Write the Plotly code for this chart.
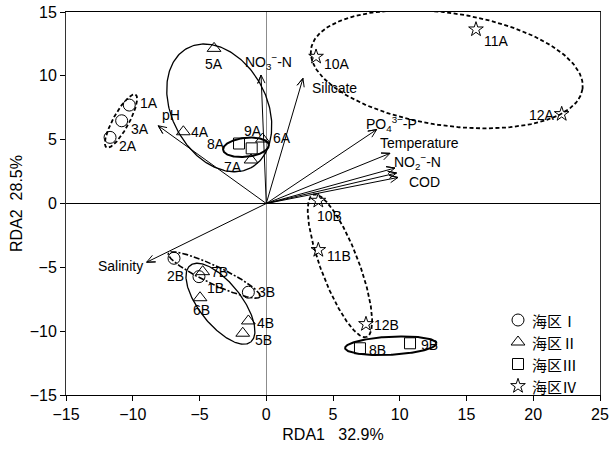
import numpy as np
import plotly.graph_objects as go

# ---------------- data ----------------
# Region I (circles)
sites_I = ["1A", "2A", "3A", "1B", "2B", "3B"]
x_I = [-10.26, -11.70, -10.83, -5.04, -6.91, -1.34]
y_I = [7.71, 5.18, 6.48, -5.73, -4.29, -6.95]

# Region II (triangles)
sites_II = ["4A", "5A", "6A", "7A", "4B", "5B", "6B", "7B"]
x_II = [-6.21, -3.91, -0.28, -1.14, -1.34, -1.76, -4.96, -4.76]
y_II = [5.62, 12.15, 5.05, 3.41, -9.20, -10.16, -7.38, -5.34]

# Region III (squares)
sites_III = ["8A", "9A", "8B", "9B"]
x_III = [-2.04, -1.09, 7.02, 10.77]
y_III = [4.70, 4.32, -11.34, -10.95]

# Region IV (stars)
sites_IV = ["10A", "11A", "12A", "10B", "11B", "12B"]
x_IV = [3.73, 15.71, 22.13, 3.90, 3.90, 7.47]
y_IV = [11.50, 13.64, 7.01, 0.22, -3.64, -9.44]

region_names = ["海区Ⅰ", "海区Ⅱ", "海区Ⅲ", "海区Ⅳ"]

# Environmental variable vectors (arrow tips)
env_names = ["NO<sub>3</sub><sup>−</sup>-N", "Silicate", "PO<sub>4</sub><sup>3−</sup>-P",
             "Temperature", "NO<sub>2</sub><sup>−</sup>-N", "", "COD", "pH", "Salinity"]
env_x = [-0.39, 2.75, 8.27, 9.27, 9.64, 9.76, 9.87, -8.09, -8.96]
env_y = [10.06, 9.80, 5.79, 3.93, 2.78, 2.39, 2.04, 6.09, -4.60]

x_ticks = [-15, -10, -5, 0, 5, 10, 15, 20, 25]
y_ticks = [-15, -10, -5, 0, 5, 10, 15]

# ---------------- styling / layout helpers ----------------
W, H = 612, 456
ML, MR, MT, MB = 66, 12, 12, 61
KX = (W - ML - MR) / (x_ticks[-1] - x_ticks[0])   # px per x unit
KY = (H - MT - MB) / (y_ticks[-1] - y_ticks[0])   # px per y unit

FONT = "Liberation Sans, Arial, sans-serif"
CJK = "Noto Sans CJK SC, sans-serif"

# label placement: (anchor, xshift px, yshift px)
label_style = {
    "1A": ("left", 9, 2), "3A": ("left", 7, -8), "2A": ("left", 7, -9),
    "1B": ("left", 6, -11), "2B": ("left", -9, -18), "3B": ("left", 8, 0),
    "4A": ("left", 6, 0), "5A": ("center", 0, -16), "6A": ("left", 8, 1),
    "7A": ("right", -7, -7), "4B": ("left", 7, -2), "5B": ("left", 10, -7),
    "6B": ("center", 1, -12), "7B": ("left", 6, 0),
    "8A": ("right", -12, 0), "9A": ("left", -10, 17), "8B": ("left", 7, -2),
    "9B": ("left", 9, -2),
    "10A": ("left", 6, -7), "11A": ("left", 6, -12), "12A": ("right", -5, -1),
    "10B": ("left", -3, -15), "11B": ("left", 7, -6), "12B": ("left", 6, -1),
}

# group ellipses: center (data), semi-axes (px), screen angle (deg), dash, width
DASH = "4px,2.5px"
ellipses = [
    (-10.88, 6.46, 30.2, 8.0, -61.3, DASH, 1.8),            # I  A
    (-3.52, 7.49, 67.7, 47.5, 62.3, "solid", 1.3),          # II A
    (-1.52, 4.40, 23.0, 9.5, -6.0, "solid", 2.0),           # III A
    (13.52, 10.52, 137.2, 56.3, 8.4, DASH, 1.8),            # IV A
    (-3.90, -5.60, 50.7, 9.0, 25.3, "6px,2px,2px,2px", 1.6),  # I  B
    (-3.43, -7.85, 48.8, 21.1, 51.7, "solid", 1.3),         # II B
    (5.52, -4.88, 76.0, 19.0, 69.3, DASH, 1.8),             # IV B
    (9.33, -11.14, 45.8, 9.0, -3.0, "solid", 2.0),          # III B
]

# legend key layout (screen px): symbol x, text x, first row y, row step
LEG_FS = 15
LEG_SYM_X, LEG_TXT_X, LEG_Y0, LEG_DY = 518, 530, 320, 22

fig = go.Figure()

t = np.linspace(0, 2 * np.pi, 240)
for cx, cy, a, b, ang, dash, lw in ellipses:
    th = np.radians(ang)
    dxp = a * np.cos(t) * np.cos(th) - b * np.sin(t) * np.sin(th)
    dyp = a * np.cos(t) * np.sin(th) + b * np.sin(t) * np.cos(th)
    fig.add_trace(go.Scatter(x=cx + dxp / KX, y=cy - dyp / KY, mode="lines",
                             line=dict(color="black", width=lw, dash=dash),
                             showlegend=False, hoverinfo="skip"))

# environmental arrows (shaft + open V head), built from the tip values
HEAD_LEN, HEAD_ANG = 9.0, np.radians(24)
ax_, ay_ = [], []
for nx, ny in zip(env_x, env_y):
    px, py = nx * KX, ny * KY           # pixel-like vector (y up)
    ang = np.arctan2(py, px)
    ax_ += [0, nx, None]
    ay_ += [0, ny, None]
    for s in (1, -1):
        bx = px - HEAD_LEN * np.cos(ang + s * HEAD_ANG)
        by = py - HEAD_LEN * np.sin(ang + s * HEAD_ANG)
        ax_ += [bx / KX, nx]
        ay_ += [by / KY, ny]
    ax_.append(None)
    ay_.append(None)
fig.add_trace(go.Scatter(x=ax_, y=ay_, mode="lines", line=dict(color="black", width=1),
                         showlegend=False, hoverinfo="skip"))

groups = [
    (sites_I, x_I, y_I, "circle-open", 12),
    (sites_II, x_II, y_II, "triangle-up-open", 12),
    (sites_III, x_III, y_III, "square-open", 11),
    (sites_IV, x_IV, y_IV, "star-open", 11),
]
annotations = []
for k, ((names, xs, ys, sym, sz), rname) in enumerate(zip(groups, region_names)):
    mk = dict(symbol=sym, size=sz, color="black", line=dict(width=1, color="black"))
    fig.add_trace(go.Scatter(x=xs, y=ys, mode="markers", marker=mk, name=rname,
                             showlegend=False))
    for n, xv, yv in zip(names, xs, ys):
        anc, xs_, ys_ = label_style[n]
        annotations.append(dict(x=xv, y=yv, xref="x", yref="y", text=n, showarrow=False,
                                xanchor=anc, yanchor="middle", xshift=xs_, yshift=ys_,
                                font=dict(family=FONT, size=14, color="black")))
    # legend key (drawn on an overlay axis measured in screen pixels)
    ly = LEG_Y0 + k * LEG_DY
    fig.add_trace(go.Scatter(x=[LEG_SYM_X], y=[ly], mode="markers", marker=mk,
                             xaxis="x2", yaxis="y2", showlegend=False, hoverinfo="skip"))
    annotations.append(dict(x=LEG_TXT_X, y=ly, xref="x2", yref="y2", text=rname,
                            showarrow=False, xanchor="left", yanchor="middle",
                            font=dict(family=CJK, size=LEG_FS, color="black")))

# arrow label placement (anchor, xshift, yshift)
env_label_style = {
    "NO<sub>3</sub><sup>−</sup>-N": ("center", 7, 13),
    "Silicate": ("left", 7, -10),
    "PO<sub>4</sub><sup>3−</sup>-P": ("left", -13, 6),
    "Temperature": ("left", -12, 10),
    "NO<sub>2</sub><sup>−</sup>-N": ("left", -3, 6),
    "COD": ("left", 9, -5),
    "pH": ("center", 13, 11),
    "Salinity": ("right", -2, -4),
}
for nm, nx, ny in zip(env_names, env_x, env_y):
    if not nm:
        continue
    anc, xs_, ys_ = env_label_style[nm]
    annotations.append(dict(x=nx, y=ny, xref="x", yref="y", text=nm, showarrow=False,
                            xanchor=anc, yanchor="middle", xshift=xs_, yshift=ys_,
                            font=dict(family=FONT, size=14, color="black")))

fig.update_layout(
    width=W, height=H, autosize=False,
    margin=dict(l=ML, r=MR, t=MT, b=MB, pad=0),
    paper_bgcolor="white", plot_bgcolor="white",
    font=dict(family=FONT, size=16, color="black"),
    annotations=annotations,
    showlegend=False,
    xaxis=dict(range=[x_ticks[0], x_ticks[-1]], tickvals=x_ticks, ticks="outside",
               ticklen=5, tickcolor="black", showline=True, linecolor="black", linewidth=1,
               mirror=True, showgrid=False, zeroline=True, zerolinecolor="#8c8c8c",
               zerolinewidth=1, tickfont=dict(size=16), automargin=False,
               title=dict(text="RDA1   32.9%", font=dict(size=16), standoff=6)),
    yaxis=dict(range=[y_ticks[0], y_ticks[-1]], tickvals=y_ticks, ticks="outside",
               ticklen=5, tickcolor="black", showline=True, linecolor="#333333", linewidth=1,
               mirror=True, showgrid=False, zeroline=True, zerolinecolor="black",
               zerolinewidth=1, tickfont=dict(size=16), automargin=False,
               title=dict(text="RDA2  28.5%", font=dict(size=16), standoff=3)),
    xaxis2=dict(overlaying="x", range=[ML, W - MR], visible=False, fixedrange=True),
    yaxis2=dict(overlaying="y", range=[H - MB, MT], visible=False, fixedrange=True),
)

fig.write_html("out.html")
